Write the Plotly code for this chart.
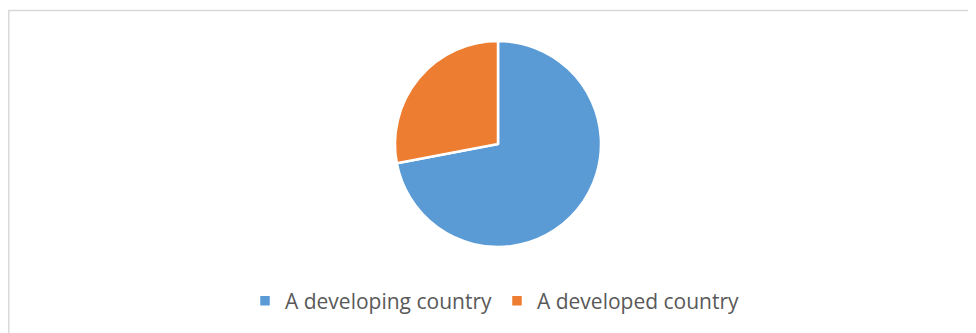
import plotly.graph_objects as go

labels = ["A developing country", "A developed country"]
values = [72, 28]
colors = ["#5b9bd5", "#ed7d31"]

# The page places the figure 8px from the top-left corner of the window.
W, H = 968, 325
cx, cy, r = 490, 136, 103

fig = go.Figure(go.Pie(
    labels=labels,
    values=values,
    sort=False,
    direction="clockwise",
    rotation=0,
    textinfo="none",
    hoverinfo="label+percent",
    marker=dict(colors=colors, line=dict(color="white", width=2.5)),
    domain=dict(x=[(cx - r) / W, (cx + r) / W], y=[1 - (cy + r) / H, 1 - (cy - r) / H]),
))

fig.update_layout(
    width=W, height=H,
    margin=dict(l=0, r=0, t=0, b=0),
    paper_bgcolor="white",
    plot_bgcolor="white",
    showlegend=True,
    legend=dict(
        orientation="h",
        x=0.5 + 3 / W, xanchor="center",
        y=1 - 293 / H, yanchor="middle",
        font=dict(family="Open Sans", size=21, color="#595959"),
        itemwidth=30,
        tracegroupgap=0,
    ),
    shapes=[
        dict(type="line", xref="paper", yref="paper", x0=0, x1=1.01, y0=1 - 2.5 / H, y1=1 - 2.5 / H,
             line=dict(color="#d9d9d9", width=1.5)),
        dict(type="line", xref="paper", yref="paper", x0=0.8 / W, x1=0.8 / W, y0=-0.01, y1=1 - 2.5 / H,
             line=dict(color="#d9d9d9", width=1.5)),
    ],
)

fig.write_html("out.html")
